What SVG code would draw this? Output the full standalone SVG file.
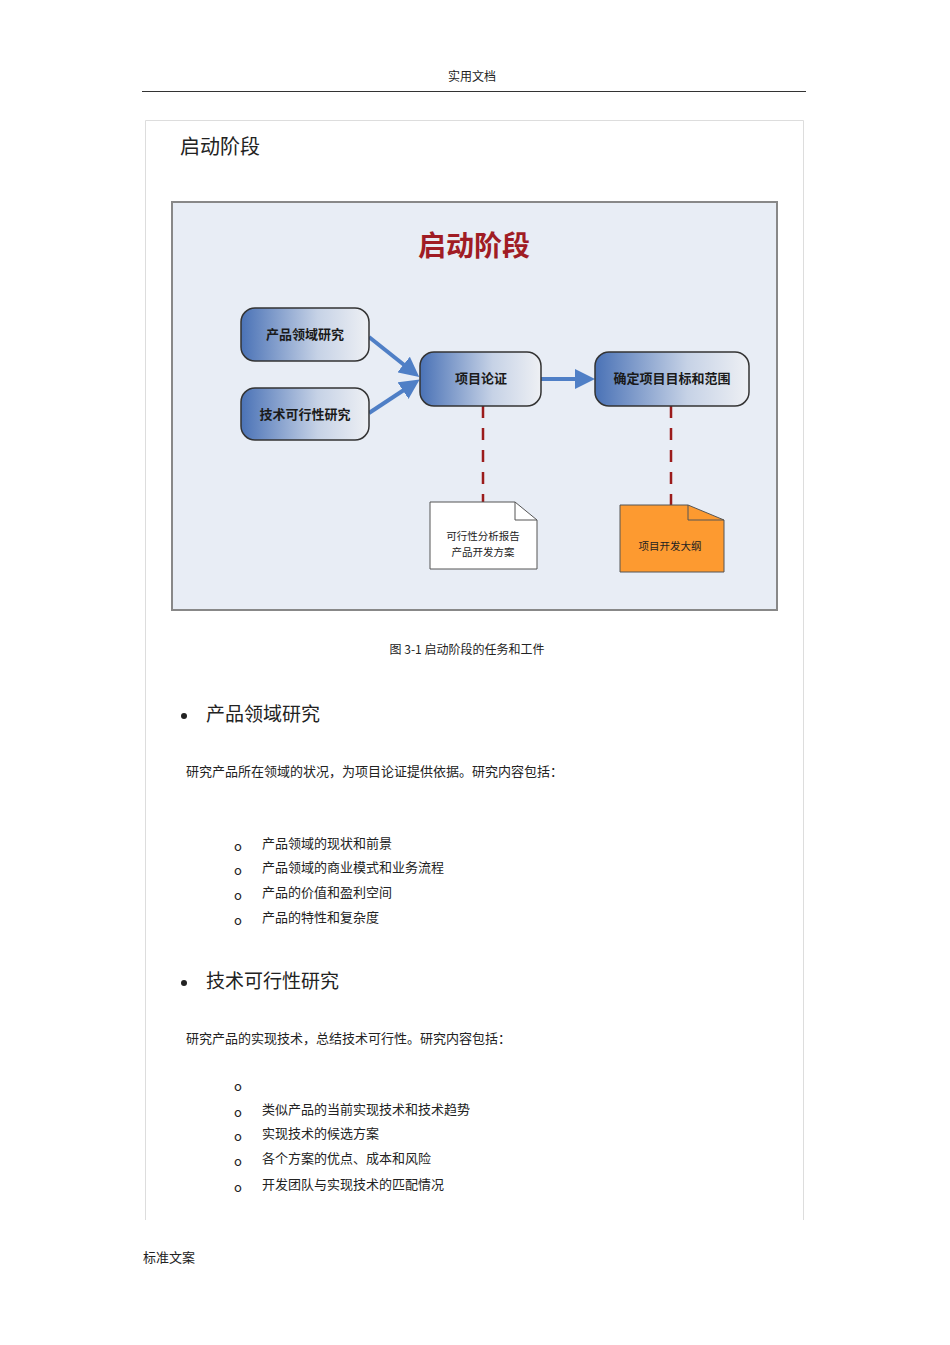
<svg xmlns="http://www.w3.org/2000/svg" width="950" height="1345" viewBox="0 0 950 1345">
<style>
text{font-family:"Noto Sans CJK SC","Liberation Sans",sans-serif;fill:#222}
.nd{fill:url(#g);stroke:#333;stroke-width:1.5}
.nt{font-size:13px;font-weight:bold;fill:#1a1a1a}
.ar{stroke:#4f7fc6;stroke-width:4;fill:none;marker-end:url(#ah)}
.ds{stroke:#9b1b1b;stroke-width:2.5;stroke-dasharray:12,10}
.b{font-size:13px}
</style>
<defs>
<linearGradient id="g" x1="0" y1="0" x2="1" y2="0"><stop offset="0" stop-color="#4a72b6"/><stop offset="0.6" stop-color="#c6d2e6"/><stop offset="1" stop-color="#eef0f4"/></linearGradient>
<marker id="ah" markerWidth="5" markerHeight="5" refX="3" refY="2.5" orient="auto"><path d="M0,0L5,2.5L0,5z" fill="#4f7fc6"/></marker>
</defs>
<rect width="950" height="1345" fill="#fff"/>
<text x="472" y="81" font-size="12" text-anchor="middle">实用文档</text>
<line x1="142" y1="91.5" x2="806" y2="91.5" stroke="#333"/>
<path d="M145.5,1220V120.5H803.5V1220" fill="none" stroke="#ddd"/>
<text x="180" y="154" font-size="20">启动阶段</text>
<rect x="172" y="202" width="605" height="408" fill="#e8edf5" stroke="#888" stroke-width="2"/>
<text x="474" y="256" font-size="28" font-weight="bold" text-anchor="middle" style="fill:#a01c24">启动阶段</text>
<g id="edges">
<line class="ar" x1="369" y1="337" x2="413" y2="372"/>
<line class="ar" x1="369" y1="413" x2="413" y2="384"/>
<line class="ar" x1="541" y1="379" x2="587" y2="379"/>
<line class="ds" x1="483" y1="406" x2="483" y2="502"/>
<line class="ds" x1="671" y1="406" x2="671" y2="505"/>
</g>
<g id="n1"><rect class="nd" x="241" y="308" width="128" height="53" rx="14"/><text class="nt" x="305" y="339" text-anchor="middle">产品领域研究</text></g>
<g id="n2"><rect class="nd" x="241" y="388" width="128" height="52" rx="14"/><text class="nt" x="305" y="419" text-anchor="middle">技术可行性研究</text></g>
<g id="n3"><rect class="nd" x="420" y="352" width="121" height="54" rx="14"/><text class="nt" x="481" y="383" text-anchor="middle">项目论证</text></g>
<g id="n4"><rect class="nd" x="595" y="352" width="154" height="54" rx="14"/><text class="nt" x="672" y="383" text-anchor="middle">确定项目目标和范围</text></g>
<g id="d1"><path d="M430,502H515L537,520V569H430Z" fill="#fff" stroke="#555"/><path d="M515,502V520H537" fill="none" stroke="#555"/><text x="483" y="540" font-size="10.5" text-anchor="middle">可行性分析报告</text><text x="483" y="556" font-size="10.5" text-anchor="middle">产品开发方案</text></g>
<g id="d2"><path d="M620,505H688L724,520V572H620Z" fill="#fd9a30" stroke="#555"/><path d="M688,505V520H724" fill="none" stroke="#555"/><text x="670" y="550" font-size="10.5" text-anchor="middle">项目开发大纲</text></g>
<text x="467" y="654" font-size="12" text-anchor="middle">图  3-1  启动阶段的任务和工件</text>
<circle cx="184" cy="716" r="3" fill="#222"/>
<text x="206" y="721" font-size="19">产品领域研究</text>
<text x="186" y="776" class="b">研究产品所在领域的状况，为项目论证提供依据。研究内容包括：</text>
<g class="b">
<text x="234" y="851">o</text><text x="262" y="848">产品领域的现状和前景</text>
<text x="234" y="875">o</text><text x="262" y="872">产品领域的商业模式和业务流程</text>
<text x="234" y="900">o</text><text x="262" y="897">产品的价值和盈利空间</text>
<text x="234" y="925">o</text><text x="262" y="922">产品的特性和复杂度</text>
</g>
<circle cx="184" cy="983" r="3" fill="#222"/>
<text x="206" y="988" font-size="19">技术可行性研究</text>
<text x="186" y="1043" class="b">研究产品的实现技术，总结技术可行性。研究内容包括：</text>
<g class="b">
<text x="234" y="1091">o</text>
<text x="234" y="1117">o</text><text x="262" y="1114">类似产品的当前实现技术和技术趋势</text>
<text x="234" y="1141">o</text><text x="262" y="1138">实现技术的候选方案</text>
<text x="234" y="1166">o</text><text x="262" y="1163">各个方案的优点、成本和风险</text>
<text x="234" y="1192">o</text><text x="262" y="1189">开发团队与实现技术的匹配情况</text>
</g>
<text x="143" y="1262" font-size="13">标准文案</text>
</svg>
